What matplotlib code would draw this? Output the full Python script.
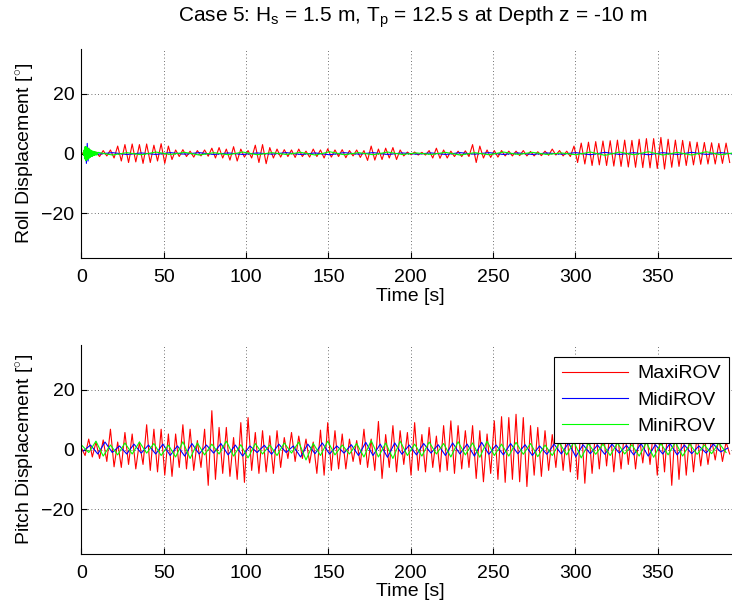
import matplotlib
matplotlib.use("Agg")
import matplotlib.pyplot as plt
import numpy as np

plt.rcParams["font.family"] = "Liberation Sans"
plt.rcParams["mathtext.fontset"] = "custom"
plt.rcParams["mathtext.rm"] = "Liberation Sans"
plt.rcParams["mathtext.it"] = "Liberation Sans"
plt.rcParams["font.size"] = 14

# time step between read-off extrema [s]
DT_MAXI = 2.2
DT_SMALL = 4.4
DT_ROLL_SMALL = 8.8
T0_ROLL_SMALL = 10.0

# roll, MaxiROV (peaks/troughs every 2.2 s from t = 0)
roll_maxi = [
    0.3, -0.5, 0.8, -0.8, 0.5, -1.0, 1.0, -0.8, 1.2, -1.5,
    2.5, -2.5, 3.0, -3.0, 3.2, -2.8, 3.0, -3.3, 3.2, -3.0,
    2.8, -2.5, 3.3, -3.3, 2.5, -2.0, 1.2, -1.0, 1.3, -1.0,
    0.8, -1.2, 1.0, -0.8, 1.2, -0.9, 1.8, -1.5, 2.0, -1.5,
    1.5, -2.2, 2.3, -2.5, 1.5, -1.2, 1.0, -1.5, 2.8, -3.0,
    3.0, -3.4, 2.0, -1.5, 1.5, -1.2, 1.3, -1.0, 1.2, -1.3,
    1.5, -1.0, 0.8, -1.2, 1.5, -1.0, 1.2, -1.5, 1.6, -1.2,
    1.2, -1.0, 1.3, -1.4, 1.0, -0.8, 1.2, -1.3, 1.0, -2.3,
    2.5, -2.2, 1.5, -2.0, 1.8, -1.5, 2.0, -2.0, 1.2, -0.8,
    0.5, -0.4, 0.5, -0.5, 0.4, -0.5, 1.0, -1.5, 1.8, -1.6,
    1.2, -1.5, 0.8, -1.0, 0.8, -1.0, 0.9, -1.0, 3.0, -3.0,
    2.5, -1.5, 1.2, -1.3, 1.0, -1.2, 1.0, -0.8, 0.8, -0.8,
    0.8, -0.7, 1.0, -0.8, 0.7, -0.8, 0.6, -0.7, 0.8, -0.6,
    1.5, -0.5, 1.0, -0.8, 0.8, -1.0, 2.5, -3.0, 3.5, -3.5,
    3.8, -4.0, 4.0, -3.8, 4.2, -4.0, 4.3, -4.2, 4.5, -4.3,
    4.5, -4.5, 4.4, -4.6, 4.8, -4.7, 5.0, -4.8, 5.0, -5.0,
    5.4, -5.2, 4.8, -4.6, 4.5, -4.3, 4.4, -4.0, 4.0, -3.8,
    3.8, -3.6, 3.7, -3.5, 3.6, -3.5, 3.4, -3.3, 3.5, -3.0,
]

# roll start-up transient (dense samples)
roll_mini_start = [
    0.3, -0.6, 1.2, -1.8, 2.3, -2.4, 2.3, -2.2, 2.0, -2.0,
    1.8, -1.7, 1.5, -1.5, 1.3, -1.2, 1.1, -1.0, 0.9, -0.9,
    0.8, -0.7, 0.7, -0.6, 0.6, -0.5, 0.5, -0.5, 0.4, -0.4,
]
roll_midi_start = [0.2, -0.8, 2.0, -3.3, 3.4, -2.5, 1.8, -1.2, 0.9, -0.6,
                   0.5, -0.4, 0.3, -0.3, 0.2, -0.2]

roll_mini = [
    0.4, -0.5, 0.3, -0.4, 0.5, -0.3, 0.4, -0.5, 0.3, -0.4,
    0.5, -0.4, 0.3, -0.3, 0.4, -0.5, 0.6, -0.4, 0.3, -0.4,
    0.5, -0.3, 0.2, -0.3, 0.4, -0.5, 0.3, -0.4, 0.5, -0.3,
    0.4, -0.3, 0.2, -0.4, 0.5, -0.6, 0.5, -0.4, 0.6, -0.5,
    0.4, -0.5, 0.6, -0.4, 0.3,
]
roll_midi = [
    -0.2, 0.3, -0.3, 0.2, -0.3, 0.3, -0.2, 0.3, -0.3, 0.2,
    -0.3, 0.2, -0.2, 0.3, -0.3, 0.2, -0.4, 0.3, -0.2, 0.3,
    -0.3, 0.2, -0.2, 0.2, -0.3, 0.3, -0.2, 0.3, -0.3, 0.2,
    -0.3, 0.2, -0.2, 0.3, -0.4, 0.4, -0.3, 0.3, -0.4, 0.3,
    -0.3, 0.4, -0.3, 0.3, -0.2,
]

# pitch, MaxiROV (peaks/troughs every 2.2 s from t = 0)
pitch_maxi = [
    0.5, -2.0, 3.5, -2.5, 2.5, -3.0, 3.2, -4.0, 6.8, -5.8,
    2.5, -6.0, 5.7, -5.0, 5.2, -6.5, 2.5, -5.0, 8.3, -7.0,
    6.8, -7.5, 6.8, -8.6, 5.2, -9.0, 5.2, -6.0, 8.3, -6.5,
    6.8, -7.0, 3.0, -6.0, 6.8, -12.0, 13.0, -10.0, 7.4, -8.0,
    7.4, -9.0, 4.0, -10.0, 9.0, -11.0, 10.7, -7.0, 5.7, -8.0,
    6.3, -7.5, 4.6, -8.0, 6.3, -6.0, 4.0, -3.0, 5.7, -4.0,
    4.5, -3.0, 3.5, -4.5, 2.5, -8.0, 6.5, -8.6, 9.0, -7.0,
    6.3, -6.5, 5.2, -6.5, 3.5, -4.0, 3.0, -5.0, 6.8, -6.0,
    3.5, -7.0, 9.4, -9.7, 5.0, -6.0, 8.0, -7.5, 6.3, -5.0,
    5.7, -8.6, 9.0, -7.0, 5.0, -7.5, 7.4, -6.0, 4.5, -7.5,
    8.0, -7.0, 9.6, -8.0, 8.0, -6.5, 6.3, -6.0, 8.0, -9.7,
    6.3, -10.8, 5.2, -8.0, 9.6, -10.0, 11.0, -11.0, 10.7, -10.0,
    11.8, -10.8, 10.7, -12.4, 8.0, -8.6, 7.4, -9.0, 6.3, -7.0,
    5.0, -6.0, 7.0, -7.0, 6.0, -7.5, 8.0, -10.0, 9.0, -11.3,
    8.0, -8.0, 7.0, -6.5, 8.0, -5.5, 7.0, -7.5, 6.0, -6.5,
    7.0, -5.0, 6.0, -6.5, 5.0, -4.5, 6.0, -5.0, 7.0, -8.6,
    8.0, -7.5, 9.0, -12.0, 9.0, -10.0, 8.0, -8.6, 6.0, -7.5,
    5.0, -5.5, 4.5, -5.0, 3.5, -3.5, 4.0, -4.0, 2.5, -1.5,
]

# pitch, MidiROV and MiniROV (extrema every 4.4 s from t = 0)
pitch_midi = [
    -0.5, 1.5, -1.5, 2.5, -1.0, 1.2, -1.5, 1.8, -1.2, 1.5,
    -1.5, 1.8, -2.0, 1.2, -2.2, 2.0, -1.5, 1.5, -1.2, 2.0,
    -1.8, 1.5, -2.2, 1.2, -1.0, 1.4, -1.6, 1.8, -1.0, 1.2,
    -2.5, 1.8, -1.4, 2.2, -1.5, 1.2, -1.2, 1.6, -2.0, 2.4,
    -2.0, 1.8, -2.6, 2.2, -1.6, 1.5, -1.8, 2.0, -1.2, 1.6,
    -2.0, 2.2, -1.5, 1.8, -2.2, 2.4, -1.6, 1.5, -1.8, 2.0,
    -1.4, 1.6, -2.0, 1.2, -1.6, 1.8, -1.5, 2.2, -2.4, 1.6,
    -1.4, 1.5, -1.6, 1.8, -1.2, 1.4, -1.8, 2.0, -2.2, 1.6,
    -1.5, 2.0, -1.8, 1.5, -1.4, 1.2, -1.2, 1.8, -0.8, 0.5,
]
pitch_mini = [
    1.5, -1.0, 2.8, -2.2, 1.5, -1.8, 2.2, -1.5, 2.5, -1.2,
    2.0, -2.0, 1.5, -2.5, 2.6, -3.0, 2.2, -1.8, 1.8, -1.5,
    2.8, -2.2, 1.6, -2.8, 2.0, -1.5, 1.5, -2.0, 2.2, -1.2,
    2.5, -3.5, 2.0, -2.0, 2.8, -1.8, 1.5, -1.5, 2.0, -2.5,
    3.0, -2.5, 2.2, -3.0, 2.8, -2.0, 1.8, -2.2, 2.5, -1.5,
    2.0, -2.5, 2.6, -1.8, 2.2, -2.6, 2.8, -2.0, 1.8, -2.2,
    2.4, -1.6, 2.0, -2.4, 1.5, -2.0, 2.2, -1.8, 2.6, -2.8,
    2.0, -1.6, 1.8, -2.0, 2.2, -1.5, 1.6, -2.2, 2.4, -2.6,
    2.0, -1.8, 2.5, -2.2, 1.8, -1.6, 1.5, -1.4, 2.2, -1.0,
]

LABELS = ["MaxiROV", "MidiROV", "MiniROV"]
COLORS = ["#ff0000", "#0000ff", "#00ff00"]


def times(values, dt, t0=0.0):
    return t0 + dt * np.arange(len(values))


def style_axes(ax, ylabel):
    ax.set_xlim(0, 400)
    ax.set_ylim(-35, 35)
    ax.set_xticks(np.arange(0, 400, 50))
    ax.set_yticks([-20, 0, 20])
    ax.grid(True, color="0.25", linestyle=(0, (1, 3)), linewidth=0.6)
    ax.spines["top"].set_visible(False)
    ax.spines["right"].set_visible(False)
    ax.tick_params(direction="in", length=4, labelsize=14)
    ax.tick_params(axis="x", pad=8)
    ax.tick_params(axis="y", pad=5)
    ax.set_xlabel("Time [s]", fontsize=14, labelpad=1)
    ax.set_ylabel(ylabel, fontsize=14, labelpad=3)


fig = plt.figure(figsize=(7.32, 6.11), dpi=100)
ax1 = fig.add_axes([0.1113, 0.5777, 0.8995, 0.342])
ax2 = fig.add_axes([0.1113, 0.0933, 0.8995, 0.342])

# roll
ax1.plot(times(roll_maxi, DT_MAXI), roll_maxi, color=COLORS[0], lw=0.8)
ax1.plot(np.concatenate([times(roll_midi_start, 0.5, 1.5), times(roll_midi, DT_ROLL_SMALL, T0_ROLL_SMALL)]),
         roll_midi_start + roll_midi, color=COLORS[1], lw=0.8)
ax1.plot(np.concatenate([times(roll_mini_start, 0.3, 1.0), times(roll_mini, DT_ROLL_SMALL, T0_ROLL_SMALL)]),
         roll_mini_start + roll_mini, color=COLORS[2], lw=0.8)
style_axes(ax1, r"Roll Displacement [$^{\circ}$]")

# pitch
lines = []
lines += ax2.plot(times(pitch_maxi, DT_MAXI), pitch_maxi, color=COLORS[0], lw=0.8)
lines += ax2.plot(times(pitch_midi, DT_SMALL, 1.1), pitch_midi, color=COLORS[1], lw=0.8)
lines += ax2.plot(times(pitch_mini, DT_SMALL), pitch_mini, color=COLORS[2], lw=0.8)
style_axes(ax2, r"Pitch Displacement [$^{\circ}$]")

leg = ax2.legend(lines, LABELS, loc="upper right", bbox_to_anchor=(0.9834, 0.9426),
                 borderaxespad=0, fancybox=False, framealpha=1, edgecolor="black",
                 handlelength=3.4, handletextpad=0.5, fontsize=14, labelspacing=0.45,
                 borderpad=0.4)
leg.get_frame().set_linewidth(0.8)

fig.text(0.563, 0.972, r"Case 5: H$_{\mathrm{s}}$ = 1.5 m, T$_{\mathrm{p}}$ = 12.5 s at Depth z = -10 m",
         ha="center", va="center", fontsize=15)

fig.savefig("out.png", dpi=100)
